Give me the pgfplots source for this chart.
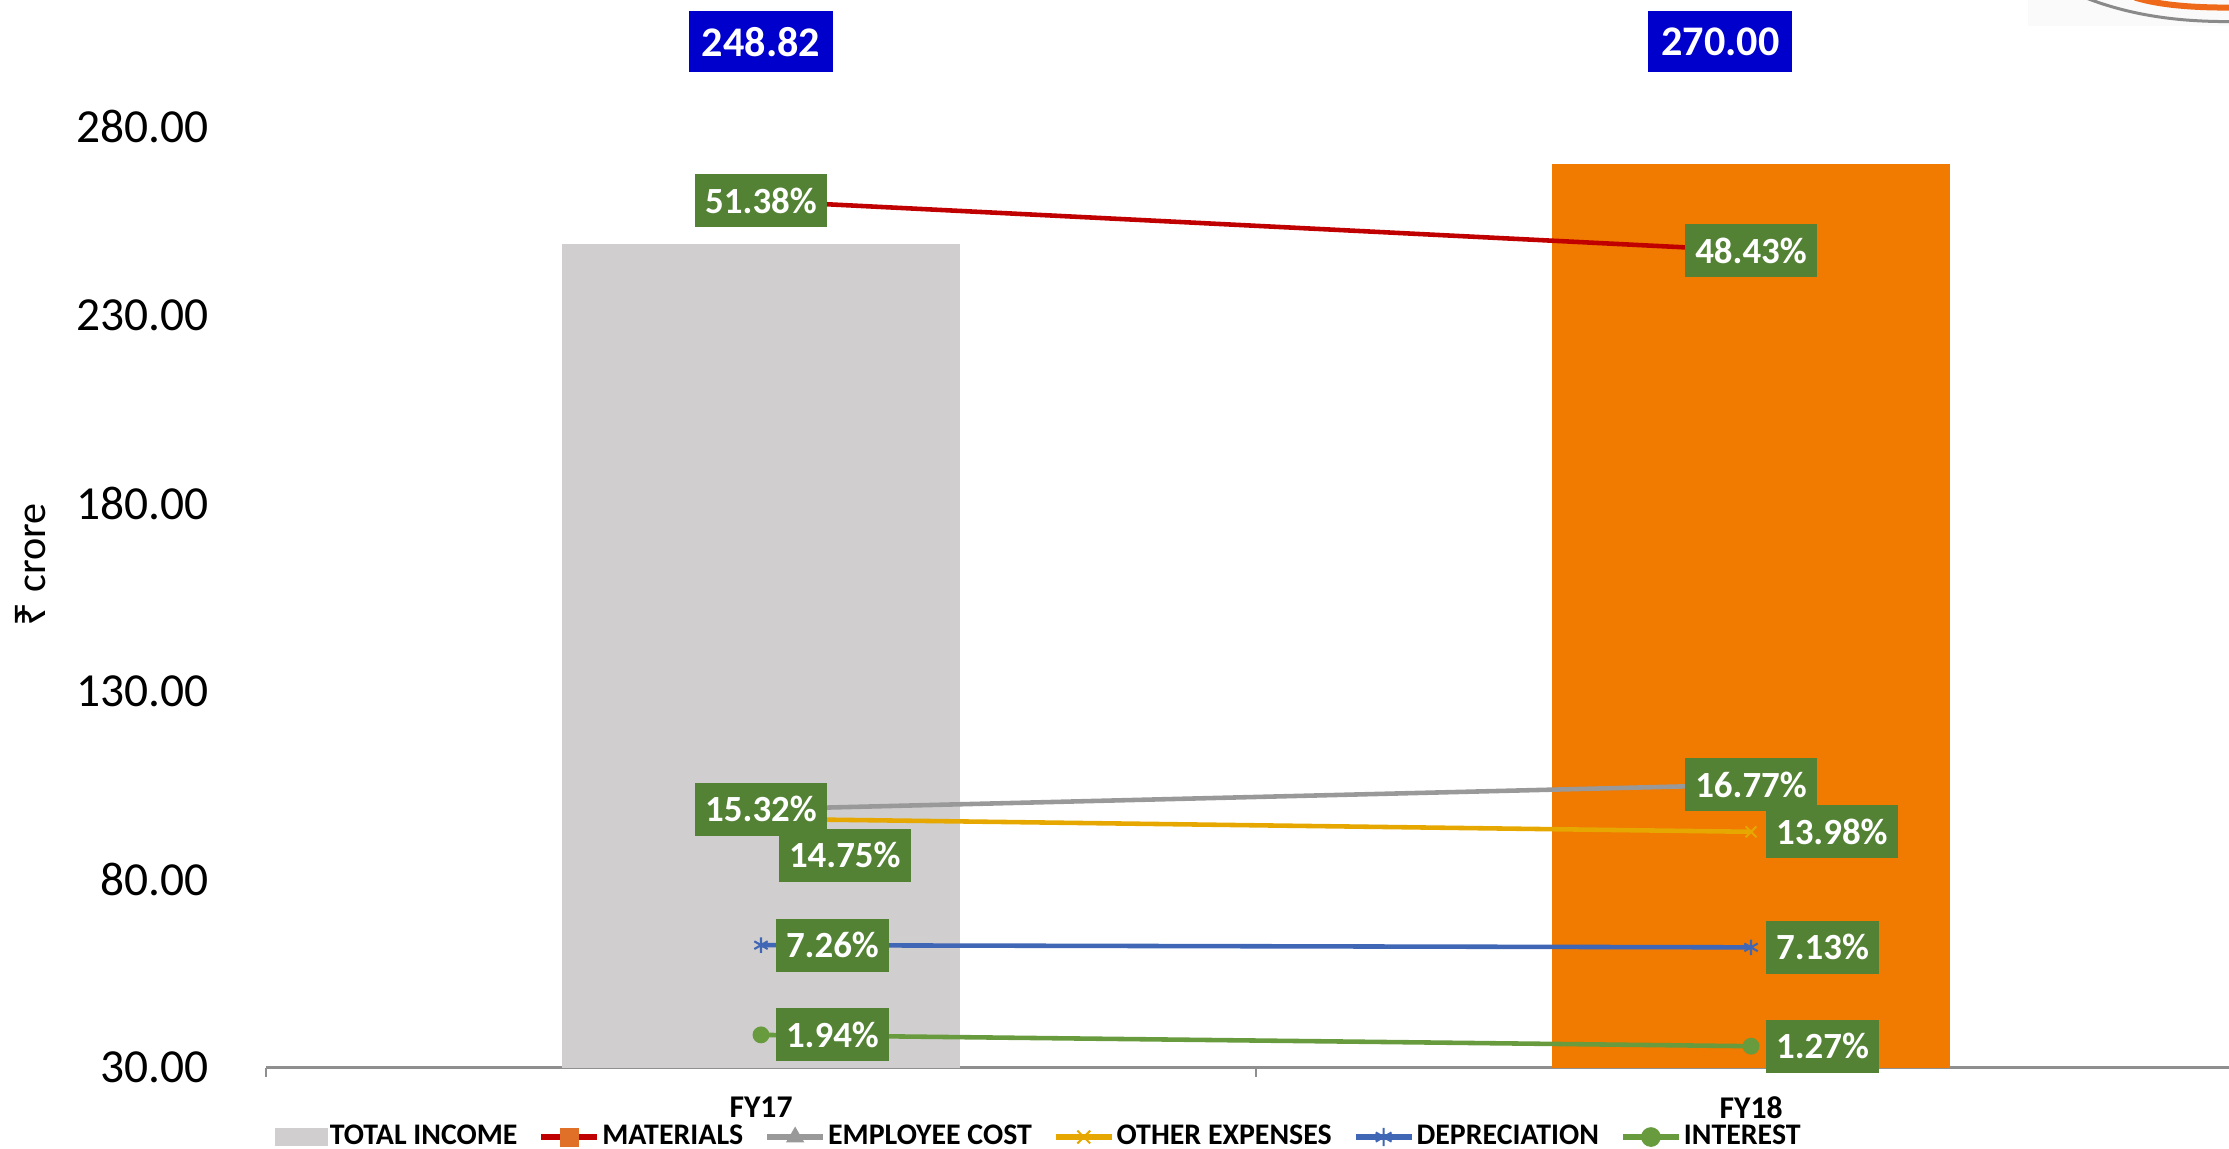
\documentclass[border=0pt]{standalone}
\usepackage{pgfplots}
\pgfplotsset{compat=1.18}
\usepackage{pgfplotstable}
\usepackage{fontspec}
\setmainfont{Carlito}
\newfontfamily\rupeefont{Noto Sans}

\definecolor{barGrey}{HTML}{D0CECE}
\definecolor{barOrange}{HTML}{F17A00}
\definecolor{labelBlue}{HTML}{0000CC}
\definecolor{labelGreen}{HTML}{548235}
\definecolor{matRed}{HTML}{C00000}
\definecolor{matMark}{HTML}{E07028}
\definecolor{empGrey}{HTML}{999999}
\definecolor{othYellow}{HTML}{E6A800}
\definecolor{depBlue}{HTML}{4067B5}
\definecolor{intGreen}{HTML}{689B3E}
\definecolor{axisGrey}{HTML}{8F8F8F}
\definecolor{logoOrange}{HTML}{EE6A1A}
\definecolor{logoGrey}{HTML}{8A8A8A}

\pgfplotstableread{
x mat emp oth dep int
0 51.38 15.32 14.75 7.26 1.94
1 48.43 16.77 13.98 7.13 1.27
}\pct

\tikzset{
  greenbox/.style={fill=labelGreen, text=white, font=\bfseries\fontsize{10.5}{12}\selectfont,
    inner xsep=0.1cm, inner ysep=0pt, minimum height=0.53cm, outer sep=0pt},
  bluebox/.style={fill=labelBlue, text=white, font=\bfseries\fontsize{12}{14}\selectfont,
    inner xsep=0.13cm, inner ysep=0pt, minimum height=0.61cm, outer sep=0pt},
}
\pgfplotsset{
  pctlabel/.style={draw=none, mark=none, forget plot,
    nodes near coords={\pgfmathprintnumber[fixed,fixed zerofill,precision=2,assume math mode=true]{\pgfplotspointmeta}\%},
    nodes near coords style={greenbox, #1}},
  lleg/.style={legend image code/.code={\draw[line width=1.8pt, mark repeat=2, mark phase=2] plot coordinates {(0cm,0cm) (0.28cm,0cm) (0.56cm,0cm)};}},
}

\begin{document}
\begin{tikzpicture}
\path[use as bounding box] (-2.66,-0.804) rectangle (19.63,10.676);
% partial logo in the top right corner
\fill[black!2] (17.62,10.676) rectangle (19.63,10.416);
\draw[logoGrey, line width=0.03cm] (18.19,10.70) .. controls (18.7,10.50) and (19.2,10.46) .. (19.63,10.46);
\draw[logoOrange, line width=0.06cm] (18.69,10.70) .. controls (18.95,10.62) and (19.3,10.60) .. (19.63,10.60);
\begin{axis}[
  scale only axis, width=19.63cm, height=10.163cm,
  xmin=-0.5, xmax=1.4828, ymin=30, ymax=300,
  clip mode=individual,
  axis x line*=bottom, axis y line*=left,
  y axis line style={draw=none},
  x axis line style={draw=axisGrey, line width=0.8pt},
  ytick={30,80,...,280},
  yticklabel={\pgfmathprintnumber[fixed,fixed zerofill,precision=2,assume math mode=true]{\tick}},
  yticklabel style={font=\fontsize{13.5}{16}\selectfont, anchor=east, inner sep=0pt, xshift=-0.57cm},
  major tick length=0pt,
  ytick style={draw=none},
  xtick={0,1}, xticklabels={FY17,FY18},
  minor xtick={-0.5,0.5,1.5},
  minor tick length=0.09cm,
  tick align=outside,
  every minor tick/.append style={draw=axisGrey, line width=0.8pt},
  xticklabel style={font=\bfseries\fontsize{9}{11}\selectfont, anchor=center, yshift=-0.40cm},
  ylabel={{\rupeefont ₹} crore},
  ylabel style={font=\fontsize{12}{14}\selectfont, at={(axis description cs:-0.1197,0.4945)}, anchor=center},
]
\addplot[ybar, bar width=3.98cm, bar shift=0pt, fill=barGrey, draw=none] coordinates {(0,248.82)};
\addplot[ybar, bar width=3.98cm, bar shift=0pt, fill=barOrange, draw=none] coordinates {(1,270.00)};
\node[bluebox] at (axis cs:0,302.5) {248.82};
\node[bluebox] at (axis cs:0.969,302.5) {270.00};
\end{axis}

\begin{axis}[
  scale only axis, width=19.63cm, height=10.163cm,
  xmin=-0.5, xmax=1.4828, ymin=0, ymax=60.25,
  hide axis, clip=false,
  legend columns=6,
  legend style={at={(axis description cs:0.0041,-0.0683)}, anchor=west, draw=none, fill=none,
    inner sep=0pt, font=\bfseries\fontsize{8.5}{10}\selectfont,
    /tikz/every even column/.append style={column sep=0.19cm},
    /tikz/every odd column/.append style={column sep=0cm},
    cells={anchor=west}, nodes={inner sep=0.5pt}},
]
\addlegendimage{legend image code/.code={\fill[barGrey] (0cm,-0.08cm) rectangle (0.52cm,0.08cm);}}
\addlegendentry{TOTAL INCOME}
\addlegendimage{lleg, matRed, mark=square*, mark size=2.5pt, mark options={fill=matMark, draw=matMark, line width=0.4pt}}
\addlegendentry{MATERIALS}
\addlegendimage{lleg, empGrey, mark=triangle*, mark size=2.6pt, mark options={line width=0.4pt}}
\addlegendentry{EMPLOYEE COST}
\addlegendimage{lleg, othYellow, mark=x, mark size=2.6pt, mark options={line width=0.6pt}}
\addlegendentry{OTHER EXPENSES}
\addlegendimage{lleg, depBlue, mark=asterisk, mark size=2.6pt, mark options={line width=0.6pt}}
\addlegendentry{DEPRECIATION}
\addlegendimage{lleg, intGreen, mark=*, mark size=2.6pt, mark options={line width=0.4pt}}
\addlegendentry{INTEREST}

\addplot[matRed, line width=1.3pt, mark=square*, mark size=2pt, mark options={fill=matMark, draw=matMark, line width=0.4pt}, forget plot] table[x=x,y=mat]{\pct};
\addplot[empGrey, line width=1.3pt, mark=triangle*, mark size=2.2pt, mark options={line width=0.4pt}, forget plot] table[x=x,y=emp]{\pct};
\addplot[othYellow, line width=1.3pt, mark=x, mark size=2.2pt, mark options={line width=0.6pt}, forget plot] table[x=x,y=oth]{\pct};
\addplot[depBlue, line width=1.3pt, mark=asterisk, mark size=2.2pt, mark options={line width=0.6pt}, forget plot] table[x=x,y=dep]{\pct};
\addplot[intGreen, line width=1.3pt, mark=*, mark size=2.2pt, mark options={line width=0.4pt}, forget plot] table[x=x,y=int]{\pct};

\addplot[pctlabel={anchor=center}] table[x=x,y=mat]{\pct};
\addplot[pctlabel={anchor=center}] table[x=x,y=emp]{\pct};
\addplot[pctlabel={anchor=north west, xshift=0.18cm, yshift=-0.1cm}] table[x=x,y=oth, skip coords between index={1}{2}]{\pct};
\addplot[pctlabel={anchor=west, xshift=0.15cm}] table[x=x,y=oth, skip coords between index={0}{1}]{\pct};
\addplot[pctlabel={anchor=west, xshift=0.15cm}] table[x=x,y=dep]{\pct};
\addplot[pctlabel={anchor=west, xshift=0.15cm}] table[x=x,y=int]{\pct};
\end{axis}
\end{tikzpicture}
\end{document}
